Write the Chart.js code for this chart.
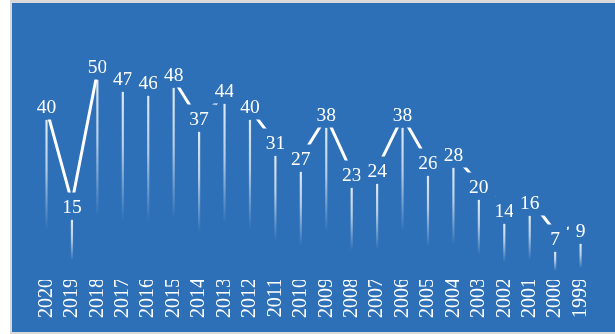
<!DOCTYPE html>
<html>
<head>
<meta charset="utf-8">
<script src="https://cdn.jsdelivr.net/npm/chart.js@4/dist/chart.umd.min.js"></script>
<style>
  html, body { margin: 0; padding: 0; background: #ffffff; }
  #wrap { width: 615px; height: 334px; }
</style>
</head>
<body>
<div id="wrap"><canvas id="c" width="615" height="334"></canvas></div>
<script>
const years = ['2020','2019','2018','2017','2016','2015','2014','2013','2012','2011','2010',
               '2009','2008','2007','2006','2005','2004','2003','2002','2001','2000','1999'];
const counts = [40,15,50,47,46,48,37,44,40,31,27,38,23,24,38,26,28,20,14,16,7,9];

const BLUE = '#2e70b7';
const SERIF = '"Liberation Serif", "DejaVu Serif", serif';

const frame = {
  id: 'frame',
  beforeDraw(chart) {
    const ctx = chart.ctx;
    ctx.save();
    ctx.fillStyle = '#ffffff';
    ctx.fillRect(0, 0, 615, 334);
    ctx.fillStyle = '#d9d9d9';
    ctx.fillRect(10, 0, 605, 334);
    ctx.fillStyle = BLUE;
    ctx.fillRect(12, 3, 603, 329);
    ctx.restore();
  }
};

const labels = {
  id: 'labelsBoxes',
  afterDatasetsDraw(chart) {
    const ctx = chart.ctx;
    const xs = chart.scales.x, ys = chart.scales.y;
    ctx.save();
    ctx.font = '19.5px ' + SERIF;
    counts.forEach((v, i) => {
      const x = xs.getPixelForValue(i);
      const cy = ys.getPixelForValue(v) - 14;
      const t = String(v);
      const w = ctx.measureText(t).width + 14;
      ctx.fillStyle = BLUE;
      ctx.fillRect(x - w / 2, cy - 13.5, w, 27);
      ctx.fillStyle = '#ffffff';
      ctx.textAlign = 'center';
      ctx.textBaseline = 'alphabetic';
      ctx.fillText(t, x, cy + 6.5);
    });
    ctx.restore();
  }
};

function dropGradient(context) {
  const chart = context.chart;
  const ys = chart.scales.y;
  if (!ys || !chart.chartArea) return 'rgba(255,255,255,0.8)';
  const v = counts[context.dataIndex];
  const top = ys.getPixelForValue(v);
  const bot = ys.getPixelForValue(0);
  const g = chart.ctx.createLinearGradient(0, top, 0, bot);
  g.addColorStop(0, 'rgba(255,255,255,0.85)');
  g.addColorStop(0.3, 'rgba(255,255,255,0.65)');
  g.addColorStop(0.68, 'rgba(255,255,255,0)');
  g.addColorStop(1, 'rgba(255,255,255,0)');
  return g;
}

new Chart(document.getElementById('c'), {
  type: 'bar',
  data: {
    labels: years,
    datasets: [
      {
        type: 'line',
        data: counts,
        yAxisID: 'y2',
        borderColor: '#ffffff',
        borderWidth: 3,
        pointRadius: 0,
        tension: 0,
        order: 2
      },
      {
        type: 'bar',
        data: counts,
        yAxisID: 'y',
        barThickness: 1.5,
        backgroundColor: dropGradient,
        borderWidth: 0,
        order: 1
      }
    ]
  },
  options: {
    responsive: false,
    devicePixelRatio: 1,
    animation: false,
    layout: { padding: { left: 33.8, right: 21.7, top: 60, bottom: 0 } },
    plugins: { legend: { display: false }, tooltip: { enabled: false } },
    scales: {
      x: {
        type: 'category',
        offset: true,
        grid: { display: false, drawTicks: false },
        border: { display: false },
        ticks: {
          color: '#ffffff',
          font: { family: SERIF, size: 20 },
          minRotation: 90,
          maxRotation: 90,
          autoSkip: false,
          padding: -2
        },
        afterFit(s) { s.height = 54; }
      },
      y: { display: false, min: 0, max: 55 },
      y2: { display: false, min: -5.91, max: 53.23 }
    }
  },
  plugins: [frame, labels]
});
</script>
</body>
</html>
